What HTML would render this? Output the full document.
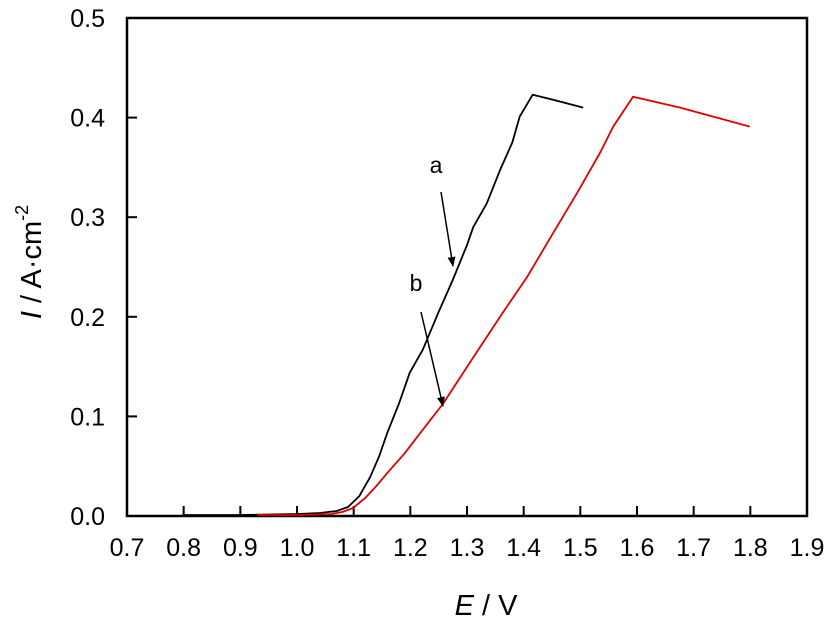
<!DOCTYPE html>
<html><head><meta charset="utf-8"><style>
html,body{margin:0;padding:0;background:#fff;}
svg{display:block;font-family:"Liberation Sans",Arial,sans-serif;}
</style></head><body>
<svg id="chart" width="827" height="621" viewBox="0 0 827 621"></svg>
<script>
const xTicks = [0.7,0.8,0.9,1.0,1.1,1.2,1.3,1.4,1.5,1.6,1.7,1.8,1.9];
const yTicks = [0.0,0.1,0.2,0.3,0.4,0.5];
const seriesAE = [0.80,0.90,1.00,1.04,1.07,1.09,1.11,1.129,1.145,1.159,1.18,1.199,1.222,1.25,1.275,1.30,1.311,1.335,1.358,1.38,1.393,1.416,1.452,1.505];
const seriesAI = [0.001,0.001,0.002,0.003,0.005,0.009,0.02,0.039,0.06,0.083,0.113,0.144,0.167,0.205,0.237,0.272,0.290,0.314,0.347,0.375,0.401,0.423,0.418,0.410];
const seriesBE = [0.93,1.00,1.06,1.08,1.099,1.12,1.14,1.159,1.19,1.217,1.258,1.305,1.363,1.406,1.452,1.494,1.535,1.558,1.593,1.676,1.799];
const seriesBI = [0.001,0.001,0.002,0.004,0.008,0.018,0.03,0.043,0.063,0.083,0.113,0.154,0.204,0.240,0.284,0.324,0.365,0.391,0.421,0.410,0.391];

const NS="http://www.w3.org/2000/svg";
const svg=document.getElementById('chart');
const L=127,R=807,T=18,B=516;
const xs=v=>L+(v-0.7)/1.2*(R-L);
const ys=v=>B-v/0.5*(B-T);
function mk(tag,attrs,parent){const e=document.createElementNS(NS,tag);for(const k in attrs)e.setAttribute(k,attrs[k]);(parent||svg).appendChild(e);return e;}

const frame=mk('rect',{x:L,y:T,width:R-L,height:B-T,fill:'none',stroke:'#000','stroke-width':2.5});



xTicks.forEach(v=>{
  const x=xs(v);
  const t=mk('line',{x1:x,x2:x,y1:B,y2:B-10,stroke:'#000','stroke-width':2});
  
  
  const l=mk('text',{x:x,y:B+40,'text-anchor':'middle','font-size':25});
  l.textContent=v.toFixed(1);
  
  
});
yTicks.forEach(v=>{
  const y=ys(v);
  const t=mk('line',{x1:L,x2:L+10,y1:y,y2:y,stroke:'#000','stroke-width':2});
  
  
  const l=mk('text',{x:L-22,y:y+9,'text-anchor':'end','font-size':25});
  l.textContent=v.toFixed(1);
  
  
});

function series(E,I,color,name){
  const d=E.map((e,i)=>(i?'L':'M')+xs(e).toFixed(1)+','+ys(I[i]).toFixed(1)).join(' ');
  const p=mk('path',{d:d,fill:'none',stroke:color,'stroke-width':1.8,'stroke-linejoin':'round'});
  
  
}
series(seriesAE,seriesAI,'#000','curve-a');
series(seriesBE,seriesBI,'#e00000','curve-b');

const defs=mk('defs',{});
const m=mk('marker',{id:'ah',markerWidth:10,markerHeight:10,refX:9,refY:4,orient:'auto',markerUnits:'userSpaceOnUse'},defs);
mk('path',{d:'M0,0 L10,4 L0,8 Z',fill:'#000'},m);
const a1=mk('line',{x1:441,y1:192,x2:453,y2:266,stroke:'#000','stroke-width':1.5,'marker-end':'url(#ah)'});


const a2=mk('line',{x1:421,y1:312,x2:443,y2:406,stroke:'#000','stroke-width':1.5,'marker-end':'url(#ah)'});


const la=mk('text',{x:436,y:173,'text-anchor':'middle','font-size':23});
la.textContent='a';


const lb=mk('text',{x:416,y:291,'text-anchor':'middle','font-size':23});
lb.textContent='b';



const xt=mk('text',{x:486,y:615,'text-anchor':'middle','font-size':29});
xt.innerHTML='<tspan font-style="italic">E</tspan> / V';


const yt=mk('text',{x:0,y:0,'text-anchor':'middle','font-size':29,transform:'translate(41,262) rotate(-90)'});
yt.innerHTML='<tspan font-style="italic">I</tspan> / A·cm<tspan font-size="18" dy="-13">-2</tspan>';


</script>
</body></html>
